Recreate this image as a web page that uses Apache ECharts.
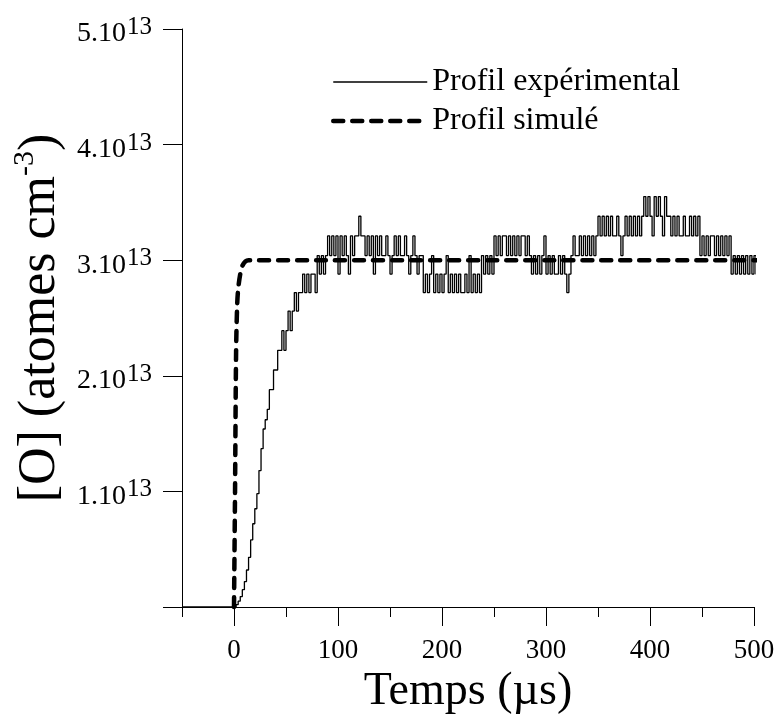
<!DOCTYPE html>
<html><head><meta charset="utf-8">
<script src="https://cdn.jsdelivr.net/npm/echarts@6/dist/echarts.min.js"></script>
<style>html,body{margin:0;padding:0;background:#fff}#c{width:784px;height:716px}</style>
</head><body><div id="c"></div>
<script>
// ---- data (values in units of 1e13 atoms cm-3, time in µs) ----
const xMajorTicks = [0, 100, 200, 300, 400, 500];
const xMinorTicks = [-50, 50, 150, 250, 350, 450];
const yTicks = [0, 1, 2, 3, 4, 5];
const seriesNames = ['Profil expérimental', 'Profil simulé'];

// experimental profile, sampled every 2 µs from t = -50 µs
const expStart = -50;
const expStep = 2;
const expValues = [
  // -50 .. 0
  0,0,0,0,0,0,0,0,0,0,0,0,0,0,0,0,0,0,0,0,0,0,0,0,0,0,
  // 2 .. 40
  0.02,0.05,0.09,0.15,0.22,0.32,0.43,0.58,0.72,0.85,0.98,1.18,1.37,1.54,1.62,1.71,1.88,1.88,2.05,2.05,
  // 42 .. 56
  2.22,2.22,2.39,2.22,2.39,2.56,2.39,2.56,
  // 58 .. 64
  2.72,2.56,2.72,2.72,
  // 66 .. 78
  2.88,2.72,2.88,2.72,2.88,2.88,2.72,
  // 80 .. 88
  3.04,2.88,3.04,2.88,3.04,
  // 90 .. 160
  3.21,3.04,3.21,3.04,3.21,2.88,3.21,3.04,3.21,3.04,
  2.88,3.21,3.04,3.21,3.21,3.38,3.21,3.21,3.04,3.21,
  3.04,3.21,2.88,3.21,3.04,3.21,3.04,3.04,3.21,3.04,
  2.88,3.04,3.21,3.04,3.21,3.04,
  // 162 .. 180
  3.04,3.21,3.04,2.88,3.04,3.21,3.04,2.88,3.04,3.04,
  // 182 .. 248
  2.72,2.88,2.72,2.88,3.04,2.72,2.88,2.72,2.88,2.72,
  2.88,3.04,2.72,2.88,2.72,2.88,2.72,2.88,2.72,2.72,
  2.88,2.72,3.04,2.72,2.88,2.72,2.88,2.72,3.04,2.88,
  3.04,2.88,3.04,2.88,
  // 250 .. 284
  3.21,3.04,3.21,3.04,3.21,3.21,3.04,3.21,3.04,3.21,3.04,3.21,3.04,3.21,3.21,3.04,3.21,3.04,
  // 286 .. 322
  2.88,3.04,2.88,3.04,2.88,3.04,3.21,2.88,3.04,2.88,3.04,2.88,2.88,3.04,2.88,3.04,2.88,2.72,2.88,
  // 324 .. 346
  3.04,3.21,3.04,3.04,3.21,3.04,3.21,3.04,3.21,3.04,3.21,3.04,
  // 348 .. 354
  3.21,3.38,3.21,3.38,
  // 356 .. 392
  3.21,3.38,3.21,3.38,3.21,3.21,3.38,3.21,3.04,3.21,3.38,3.21,3.38,3.21,3.38,3.21,3.38,3.21,3.38,
  // 394 .. 416
  3.55,3.38,3.55,3.38,3.21,3.55,3.38,3.55,3.38,3.21,3.55,3.38,
  // 418 .. 434
  3.38,3.21,3.38,3.21,3.38,3.21,3.21,3.38,3.21,
  // 436 .. 446
  3.21,3.38,3.21,3.38,3.21,3.38,
  // 448 .. 458
  3.04,3.21,3.04,3.21,3.04,3.21,
  // 460 .. 476
  3.21,3.04,3.21,3.04,3.21,3.04,3.21,3.04,3.21,
  // 478 .. 506
  2.88,3.04,2.88,3.04,2.88,3.04,2.88,3.04,2.88,3.04,2.88,3.04,2.88,3.04,2.88
];

// simulated profile
const simTime   = [0, 1, 2, 3, 4, 6, 8, 11, 14, 506];
const simValues = [0, 1.0, 2.2, 2.6, 2.75, 2.88, 2.95, 2.99, 3.0, 3.0];

// ---- build ----
const expData = expValues.map((v, i) => [expStart + i * expStep, v]);
const simData = simTime.map((t, i) => [t, simValues[i]]);

const FONT = 'Liberation Serif';
const chart = echarts.init(document.getElementById('c'), null, {renderer: 'canvas'});
chart.setOption({
  animation: false,
  backgroundColor: '#fff',
  textStyle: {fontFamily: FONT, color: '#000'},
  grid: {left: 182, right: 30, top: 29, bottom: 109, containLabel: false, outerBoundsMode: 'none'},
  legend: {
    orient: 'vertical',
    left: 331, top: 66, padding: 0,
    itemWidth: 94, itemHeight: 14, itemGap: 7,
    data: seriesNames,
    textStyle: {fontFamily: FONT, fontSize: 32, color: '#000', lineHeight: 32, padding: [0, 0, 0, 0]},
    itemStyle: {opacity: 0},
    lineStyle: {width: 'inherit'}
  },
  xAxis: [{
    type: 'value', min: -50, max: 500, interval: 50,
    name: 'Temps (µs)', nameLocation: 'middle', nameGap: 61,
    nameTextStyle: {fontFamily: FONT, fontSize: 46, color: '#000'},
    axisLine: {show: true, onZero: false, lineStyle: {color: '#000', width: 1}},
    axisTick: {show: true, inside: false, length: 19, customValues: xMajorTicks, lineStyle: {color: '#000'}},
    axisLabel: {show: true, customValues: xMajorTicks, margin: 30, fontFamily: FONT, fontSize: 27, color: '#000'},
    splitLine: {show: false}
  }, {
    type: 'value', min: -50, max: 500, interval: 50, position: 'bottom',
    axisLine: {show: false},
    axisTick: {show: true, inside: false, length: 10, customValues: xMinorTicks, lineStyle: {color: '#000'}},
    axisLabel: {show: false},
    splitLine: {show: false}
  }],
  yAxis: {
    type: 'value', min: 0, max: 5, interval: 1,
    name: '{a|[O] (atomes cm}{b|-3}{a|)}', nameLocation: 'middle', nameGap: 112,
    nameTextStyle: {
      rich: {
        a: {fontFamily: FONT, fontSize: 52, color: '#000', lineHeight: 60},
        b: {fontFamily: FONT, fontSize: 30, color: '#000', verticalAlign: 'top', lineHeight: 32}
      }
    },
    axisLine: {show: true, onZero: false, lineStyle: {color: '#000', width: 1}},
    axisTick: {show: true, inside: false, length: 19, customValues: yTicks, lineStyle: {color: '#000'}},
    axisLabel: {
      margin: 30,
      customValues: yTicks,
      formatter: v => v === 0 ? '' : '{a|' + v + '.10}{b|13}',
      rich: {
        a: {fontFamily: FONT, fontSize: 28, color: '#000', lineHeight: 28, padding: [10, 0, 0, 0]},
        b: {fontFamily: FONT, fontSize: 25, color: '#000', lineHeight: 25, verticalAlign: 'top', padding: [0, 0, 0, 1]}
      }
    },
    splitLine: {show: false}
  },
  series: [{
    name: seriesNames[0],
    type: 'line', xAxisIndex: 0, yAxisIndex: 0,
    data: expData, step: 'end',
    symbol: 'none', symbolSize: 0, showSymbol: false, clip: false,
    lineStyle: {color: '#000', width: 1.3},
    itemStyle: {color: '#000'}
  }, {
    name: seriesNames[1],
    type: 'line', xAxisIndex: 0, yAxisIndex: 0,
    data: simData, smooth: 0.3,
    symbol: 'none', symbolSize: 0, showSymbol: false, clip: false,
    lineStyle: {color: '#000', width: 4.5, type: [10, 9], cap: 'round'},
    itemStyle: {color: '#000'}
  }]
});
</script></body></html>
